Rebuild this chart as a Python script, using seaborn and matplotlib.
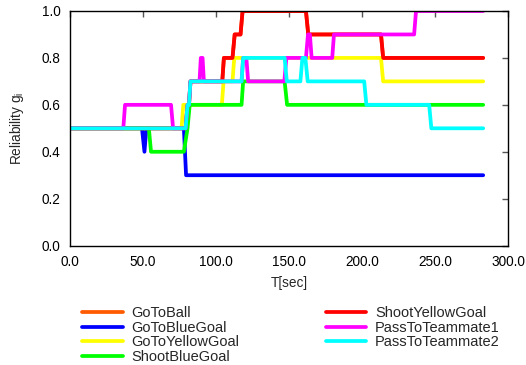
import matplotlib
matplotlib.use("Agg")
import matplotlib.pyplot as plt
import seaborn as sns
import pandas as pd

# series (time in sec, reliability value)
go_to_ball_t = [0, 79.2, 80.5, 81.5, 82.5, 104.3, 105.4, 111.3, 112.8, 116.8, 118.2, 161.6, 163.2, 213.0, 214.5, 283]
go_to_ball_v = [0.5, 0.5, 0.6, 0.6, 0.7, 0.7, 0.8, 0.8, 0.9, 0.9, 1.0, 1.0, 0.9, 0.9, 0.8, 0.8]

go_to_blue_t = [0, 49.3, 51.0, 52.3, 78.0, 79.5, 283]
go_to_blue_v = [0.5, 0.5, 0.4, 0.5, 0.5, 0.3, 0.3]

go_to_yellow_t = [0, 76.4, 77.6, 104.0, 105.2, 111.3, 112.5, 213.0, 214.5, 283]
go_to_yellow_v = [0.5, 0.5, 0.6, 0.6, 0.7, 0.7, 0.8, 0.8, 0.7, 0.7]

shoot_blue_t = [0, 54.0, 55.5, 78.0, 80.5, 82.0, 117.5, 118.6, 147.0, 148.7, 283]
shoot_blue_v = [0.5, 0.5, 0.4, 0.4, 0.5, 0.6, 0.6, 0.7, 0.7, 0.6, 0.6]

shoot_yellow_t = [0, 79.2, 80.5, 81.5, 82.5, 104.3, 105.4, 111.3, 112.8, 116.8, 118.2, 161.6, 163.2, 213.0, 214.5, 283]
shoot_yellow_v = [0.5, 0.5, 0.6, 0.6, 0.7, 0.7, 0.8, 0.8, 0.9, 0.9, 1.0, 1.0, 0.9, 0.9, 0.8, 0.8]

pass1_t = [0, 36.5, 37.7, 69.2, 70.6, 79.2, 80.5, 81.5, 82.5, 88.7, 89.6, 90.8, 91.7,
           117.5, 118.6, 120.8, 122.0, 146.8, 148.2, 161.6, 163.0, 164.3, 165.5,
           179.6, 180.8, 235.7, 237.0, 283]
pass1_v = [0.5, 0.5, 0.6, 0.6, 0.5, 0.5, 0.6, 0.6, 0.7, 0.7, 0.8, 0.8, 0.7,
           0.7, 0.8, 0.8, 0.7, 0.7, 0.8, 0.8, 0.9, 0.9, 0.8,
           0.8, 0.9, 0.9, 1.0, 1.0]

pass2_t = [0, 79.2, 80.5, 81.5, 82.5, 117.5, 118.6, 147.0, 148.5, 157.8, 159.2, 161.2, 162.8,
           201.5, 203.0, 246.0, 247.5, 283]
pass2_v = [0.5, 0.5, 0.6, 0.6, 0.7, 0.7, 0.8, 0.8, 0.7, 0.7, 0.8, 0.8, 0.7,
           0.7, 0.6, 0.6, 0.5, 0.5]

names = ["GoToBall", "GoToBlueGoal", "GoToYellowGoal", "ShootBlueGoal",
         "ShootYellowGoal", "PassToTeammate1", "PassToTeammate2"]
colors = ["#ff5a00", "#0000ff", "#ffff00", "#00ff00", "#ff0000", "#ff00ff", "#00ffff"]
series = [(go_to_ball_t, go_to_ball_v), (go_to_blue_t, go_to_blue_v),
          (go_to_yellow_t, go_to_yellow_v), (shoot_blue_t, shoot_blue_v),
          (shoot_yellow_t, shoot_yellow_v), (pass1_t, pass1_v), (pass2_t, pass2_v)]

rows = []
for name, (ts, vs) in zip(names, series):
    for t, v in zip(ts, vs):
        rows.append({"t": t, "v": v, "behavior": name})
df = pd.DataFrame(rows)

sns.set_theme(style="white")
plt.rcParams["font.family"] = ["Liberation Sans", "DejaVu Sans"]
plt.rcParams["mathtext.fontset"] = "custom"
plt.rcParams["mathtext.rm"] = "Liberation Sans"
plt.rcParams["mathtext.it"] = "Liberation Sans"

fig = plt.figure(figsize=(5.26, 3.65), dpi=100)
ax = fig.add_axes([70 / 526, 1 - 245.6 / 365, 438 / 526, 234.6 / 365])

sns.lineplot(data=df, x="t", y="v", hue="behavior", hue_order=names,
             palette=colors, estimator=None, sort=False, linewidth=2.7,
             ax=ax, legend=True)

ax.set_xlim(0, 300)
ax.set_ylim(0, 1.0)
ax.set_xticks([0, 50, 100, 150, 200, 250, 300])
ax.set_xticklabels([f"{x:.1f}" for x in [0, 50, 100, 150, 200, 250, 300]])
ax.set_yticks([0, 0.2, 0.4, 0.6, 0.8, 1.0])
ax.set_yticklabels([f"{y:.1f}" for y in [0, 0.2, 0.4, 0.6, 0.8, 1.0]])
ax.tick_params(direction="in", length=4, width=1, color="#555555",
               top=True, right=True, labelsize=9.8, pad=7, labelcolor="black")
for s in ax.spines.values():
    s.set_color("black")
    s.set_linewidth(1)
ax.set_xlabel("T[sec]", fontsize=9.8, labelpad=5)
ax.set_ylabel("Reliability g$_{\\mathregular{i}}$", fontsize=9.8, labelpad=11)

handles, labels = ax.get_legend_handles_labels()
ax.get_legend().remove()
fig.legend(handles, labels, ncol=2, loc="upper left",
           bbox_to_anchor=(82 / 526, 1 - 306 / 365), frameon=False,
           fontsize=10.5, handlelength=2.8, handletextpad=0.6,
           columnspacing=5.9, labelspacing=0.05, borderpad=0, borderaxespad=0)

fig.savefig("out.png", dpi=100)
